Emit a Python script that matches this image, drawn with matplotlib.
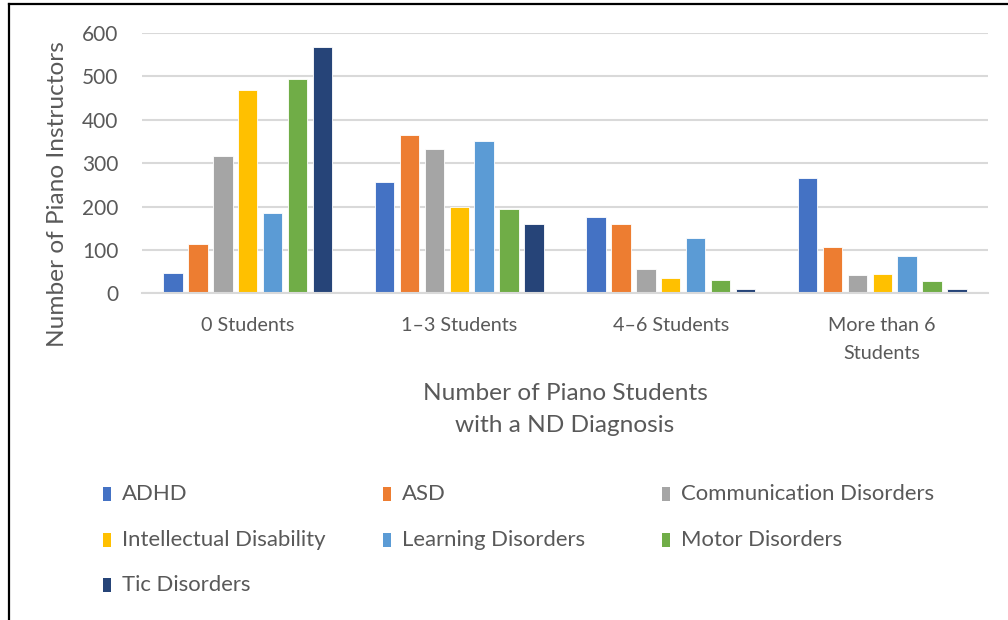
import matplotlib
matplotlib.use("Agg")
import matplotlib.pyplot as plt
from matplotlib.patches import Rectangle
from matplotlib.lines import Line2D
import numpy as np

# Survey counts: instructors by number of ND-diagnosed students they teach
categories = ["0 Students", "1\u20133 Students", "4\u20136 Students", "More than 6\nStudents"]
series_names = ["ADHD", "ASD", "Communication Disorders", "Intellectual Disability",
                "Learning Disorders", "Motor Disorders", "Tic Disorders"]
adhd = [46, 257, 177, 266]
asd = [113, 365, 160, 107]
communication = [316, 332, 56, 42]
intellectual = [468, 199, 35, 44]
learning = [184, 350, 127, 85]
motor = [494, 194, 30, 28]
tic = [567, 159, 11, 10]
series_values = [adhd, asd, communication, intellectual, learning, motor, tic]
colors = ["#4472C4", "#ED7D31", "#A5A5A5", "#FFC000", "#5B9BD5", "#70AD47", "#264478"]
y_ticks = [0, 100, 200, 300, 400, 500, 600]

TEXT = "#595959"
GRID = "#D9D9D9"
FONT = "Lato"
plt.rcParams["font.family"] = [FONT, "DejaVu Sans"]

W, H = 1008, 620
fig = plt.figure(figsize=(W / 100, H / 100), dpi=100)


def fx(px):
    return px / W


def fy(py):
    return 1 - py / H


ax = fig.add_axes([fx(142), fy(293.3), fx(988) - fx(142), fy(33) - fy(293.3)])

x = np.arange(len(categories))
step = 0.118
width = 0.092
n = len(series_names)
for i, (vals, col) in enumerate(zip(series_values, colors)):
    offs = (i - (n - 1) / 2) * step
    ax.bar(x + offs, vals, width=width, color=col, edgecolor="white",
           linewidth=0.6, zorder=3)

ax.set_xlim(-0.5, len(categories) - 0.5)
ax.set_ylim(0, 600)
ax.set_yticks(y_ticks)
ax.set_xticks(x)
ax.set_xticklabels(categories, fontsize=14.2, color=TEXT, linespacing=1.8)
ax.tick_params(axis="y", labelsize=15, labelcolor=TEXT, length=0, pad=17)
ax.tick_params(axis="x", length=0, pad=17)
ax.grid(axis="y", color=GRID, linewidth=1.5, zorder=0)
for s in ["top", "right", "left"]:
    ax.spines[s].set_visible(False)
ax.spines["bottom"].set_color(GRID)
ax.spines["bottom"].set_linewidth(1.5)
ax.spines["bottom"].set_zorder(4)

fig.text(fx(58), fy(194), "Number of Piano Instructors", rotation=90,
         ha="center", va="center", fontsize=17.6, color=TEXT)
fig.text(fx(565), fy(393), "Number of Piano Students", ha="center", va="center",
         fontsize=17.6, color=TEXT)
fig.text(fx(565), fy(425), "with a ND Diagnosis", ha="center", va="center",
         fontsize=17.6, color=TEXT)

# Legend laid out in three columns under the chart
col_x = [103, 383, 662]
row_y = [494, 540, 585]
for i, (name, col) in enumerate(zip(series_names, colors)):
    r, c = divmod(i, 3)
    px, py = col_x[c], row_y[r]
    fig.add_artist(Rectangle((fx(px), fy(py + 7)), fx(8), 14 / H,
                             transform=fig.transFigure, facecolor=col,
                             edgecolor="none"))
    fig.text(fx(px + 19), fy(py), name, ha="left", va="center",
             fontsize=15.9, color=TEXT)

# Outer frame: left and top edges
fig.add_artist(Line2D([fx(8.5), fx(8.5)], [0, fy(3.5)], transform=fig.transFigure,
                      color="black", linewidth=1.6))
fig.add_artist(Line2D([fx(8.5), 1], [fy(3.5), fy(3.5)], transform=fig.transFigure,
                      color="black", linewidth=1.6))

fig.savefig("out.png", dpi=100, facecolor="white")
